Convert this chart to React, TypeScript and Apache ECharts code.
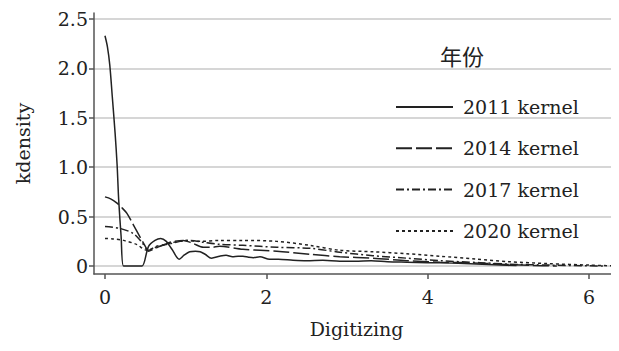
import React, { useEffect, useRef } from "react";
import * as echarts from "echarts";

const seriesNames = ["2011 kernel", "2014 kernel", "2017 kernel", "2020 kernel"];
const legendTitle = "年份";
const xName = "Digitizing";
const yName = "kdensity";
const xTicks = [0, 2, 4, 6];
const yTicks = [0, 0.5, 1.0, 1.5, 2.0, 2.5];

const x2011 = [0, 0.03, 0.06, 0.09, 0.125, 0.15, 0.17, 0.2, 0.23, 0.3, 0.4, 0.46, 0.54, 0.62, 0.69, 0.76, 0.83, 0.92, 0.98, 1.05, 1.12, 1.18, 1.24, 1.32, 1.42, 1.5, 1.58, 1.65, 1.71, 1.78, 1.84, 1.92, 2.04, 2.15, 2.33, 2.5, 2.7, 2.91, 3.1, 3.3, 3.5, 3.74, 4.0, 4.3, 4.6, 4.9, 5.1];
const y2011 = [2.33, 2.22, 2.03, 1.72, 1.35, 1.03, 0.67, 0.3, 0.0, 0, 0, 0, 0.2, 0.26, 0.28, 0.25, 0.17, 0.07, 0.11, 0.145, 0.15, 0.145, 0.12, 0.08, 0.1, 0.11, 0.095, 0.1, 0.1, 0.09, 0.085, 0.095, 0.07, 0.07, 0.06, 0.055, 0.06, 0.05, 0.05, 0.055, 0.045, 0.04, 0.035, 0.03, 0.02, 0.01, 0.005];

const x2014 = [0, 0.07, 0.145, 0.21, 0.27, 0.35, 0.43, 0.5, 0.54, 0.6, 0.68, 0.77, 0.85, 0.97, 1.09, 1.22, 1.32, 1.42, 1.71, 2.13, 2.54, 2.91, 3.32, 3.74, 4.15, 4.65, 5.0, 5.3, 5.6];
const y2014 = [0.7, 0.68, 0.64, 0.59, 0.535, 0.42, 0.3, 0.2, 0.15, 0.17, 0.2, 0.23, 0.25, 0.26, 0.23, 0.19, 0.19, 0.2, 0.17, 0.15, 0.12, 0.095, 0.08, 0.055, 0.04, 0.03, 0.015, 0.007, 0.0];

const x2017 = [0, 0.19, 0.35, 0.45, 0.54, 0.63, 0.72, 0.83, 0.93, 1.05, 1.22, 1.42, 1.71, 2.13, 2.54, 2.91, 3.32, 3.74, 4.15, 4.65, 5.0, 5.5, 6.0, 6.2];
const y2017 = [0.4, 0.38, 0.33, 0.25, 0.16, 0.19, 0.21, 0.23, 0.25, 0.26, 0.24, 0.22, 0.21, 0.19, 0.18, 0.14, 0.105, 0.08, 0.055, 0.035, 0.02, 0.01, 0.003, 0];

const x2020 = [0, 0.1, 0.23, 0.39, 0.52, 0.64, 0.75, 0.85, 1.01, 1.18, 1.42, 1.71, 2.13, 2.54, 2.91, 3.32, 3.74, 4.15, 4.6, 5.0, 5.5, 6.0, 6.3];
const y2020 = [0.28, 0.275, 0.26, 0.22, 0.16, 0.2, 0.22, 0.24, 0.26, 0.25, 0.26, 0.26, 0.25, 0.21, 0.16, 0.145, 0.125, 0.1, 0.07, 0.045, 0.025, 0.01, 0.002];

const xs = [x2011, x2014, x2017, x2020];
const ys = [y2011, y2014, y2017, y2020];
const dashes: any[] = ["solid", [16, 4], [8, 3, 2, 3], [3, 3]];

const SERIF = "DejaVu Serif";

export default function App() {
  const ref = useRef<HTMLDivElement>(null);
  useEffect(() => {
    const chart = echarts.init(ref.current!, null, { renderer: "svg" });
    const series = seriesNames.map((name, i) => ({
      name,
      type: "line",
      data: xs[i].map((x, j) => [x, ys[i][j]]),
      symbol: "none",
      smooth: 0.3,
      lineStyle: { color: "#222", width: 1.5, type: dashes[i] },
      itemStyle: { color: "#222" },
      z: 10 - i,
    }));
    chart.setOption({
      animation: false,
      backgroundColor: "#fff",
      grid: { left: 94, right: 0, top: 13, bottom: 77 },
      xAxis: {
        type: "value",
        min: -0.136,
        max: 6.37,
        name: xName,
        nameLocation: "middle",
        nameGap: 45,
        nameTextStyle: { fontFamily: SERIF, fontSize: 19, color: "#222" },
        axisLine: { show: true, onZero: false, lineStyle: { color: "#555", width: 1.5 } },
        axisTick: { show: true, length: 5, customValues: xTicks, lineStyle: { color: "#555", width: 1.5 } },
        axisLabel: { customValues: xTicks, margin: 13, fontFamily: SERIF, fontSize: 19, color: "#222" },
        splitLine: { show: false },
      },
      yAxis: {
        type: "value",
        min: -0.08,
        max: 2.56,
        name: yName,
        nameLocation: "middle",
        nameGap: 62,
        nameTextStyle: { fontFamily: SERIF, fontSize: 19, color: "#222" },
        axisLine: { show: true, onZero: false, lineStyle: { color: "#555", width: 1.5 } },
        axisTick: { show: true, length: 5, customValues: yTicks, lineStyle: { color: "#555", width: 1.5 } },
        axisLabel: {
          customValues: yTicks,
          margin: 6,
          fontFamily: SERIF,
          fontSize: 19,
          color: "#222",
          formatter: (v: number) => (v === 0 ? "0" : v.toFixed(1)),
        },
        splitLine: { show: true, lineStyle: { color: "#d6d6d6", width: 2 } },
      },
      legend: {
        orient: "vertical",
        left: 390,
        top: 91,
        itemWidth: 57,
        itemHeight: 20,
        itemGap: 19.3,
        data: seriesNames,
        itemStyle: { opacity: 0 },
        textStyle: { fontFamily: SERIF, fontSize: 19, color: "#222", lineHeight: 22, padding: [0, 0, 0, 5] },
      },
      graphic: [
        {
          type: "text",
          x: 440,
          y: 55,
          style: { text: legendTitle, fontFamily: "Noto Sans CJK SC", fontSize: 22, fill: "#222", verticalAlign: "middle" },
        },
      ],
      series,
    });
    return () => chart.dispose();
  }, []);
  return <div ref={ref} style={{ width: 619, height: 351, margin: -8 }} />;
}
